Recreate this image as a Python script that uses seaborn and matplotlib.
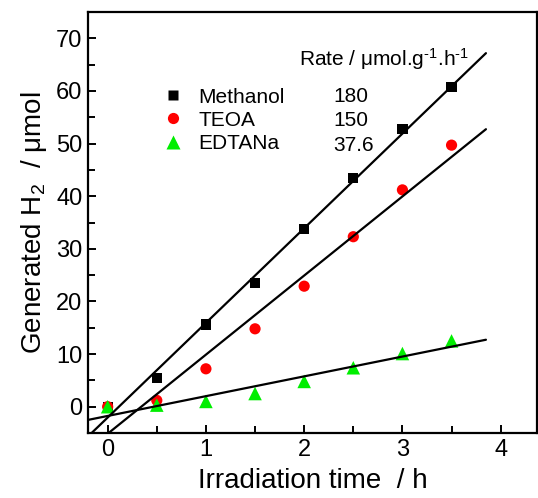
import numpy as np
import pandas as pd
import seaborn as sns
import matplotlib.pyplot as plt
from matplotlib.ticker import MultipleLocator

# data
time_h = [0, 0.5, 1.0, 1.5, 2.0, 2.5, 3.0, 3.5]
methanol = [0, 5.5, 15.6, 23.5, 33.7, 43.5, 52.8, 60.7]
teoa = [0, 1.2, 7.2, 14.8, 22.9, 32.3, 41.2, 49.7]
edtana = [0, 0.3, 1.0, 2.5, 4.8, 7.4, 10.1, 12.5]
names = ["Methanol", "TEOA", "EDTANa"]
rates = ["180", "150", "37.6"]
colors = ["black", "red", "#00ee00"]
markers = ["s", "o", "^"]
msizes = [55, 65, 95]

df = pd.DataFrame({"t": time_h * 3,
                   "h2": methanol + teoa + edtana,
                   "sample": [n for n in names for _ in time_h]})

sns.set_theme(style="ticks")
plt.rcParams["font.family"] = ["Liberation Sans", "DejaVu Sans"]
plt.rcParams.update({"text.color": "black", "axes.labelcolor": "black",
                     "xtick.color": "black", "ytick.color": "black",
                     "axes.edgecolor": "black", "axes.unicode_minus": False,
                     "mathtext.fontset": "custom", "mathtext.rm": "Liberation Sans",
                     "mathtext.it": "Liberation Sans:italic"})

fig = plt.figure(figsize=(5.38, 4.98), dpi=100)
ax = fig.add_axes([0.1636, 0.1305, 0.8346, 0.8454])

# linear fits
fit_x = np.array([-0.25, 3.85])
for n in names:
    d = df[df["sample"] == n]
    k, b = np.polyfit(d["t"], d["h2"], 1)
    sns.lineplot(x=fit_x, y=k * fit_x + b, color="black", lw=1.6, ax=ax, zorder=3)

sns.scatterplot(data=df, x="t", y="h2", hue="sample", style="sample", size="sample",
                palette=dict(zip(names, colors)), markers=dict(zip(names, markers)),
                sizes=dict(zip(names, msizes)), edgecolor="none", ax=ax, zorder=2)

ax.set_xlim(-0.2, 4.37)
ax.set_ylim(-5, 75)
ax.xaxis.set_major_locator(MultipleLocator(1))
ax.xaxis.set_minor_locator(MultipleLocator(0.5))
ax.yaxis.set_major_locator(MultipleLocator(10))
ax.yaxis.set_minor_locator(MultipleLocator(5))
ax.tick_params(which="both", direction="in", width=1.4, labelsize=17, pad=4)
ax.tick_params(which="major", length=6)
ax.tick_params(which="minor", length=5)
for s in ax.spines.values():
    s.set_linewidth(1.6)

ax.set_xlabel("Irradiation time  / h", fontsize=20, labelpad=5)
ax.set_ylabel("Generated H$_2$  / μmol", fontsize=20, labelpad=5)

leg = ax.legend(loc="upper left", bbox_to_anchor=(0.12, 0.865), frameon=False,
                fontsize=15, handlelength=1.2, handletextpad=0.6, labelspacing=0.2,
                title=None)
ax.text(0.47, 0.872, r"Rate / μmol.g$^{\text{-1}}$.h$^{\text{-1}}$", transform=ax.transAxes, fontsize=15)
for i, r in enumerate(rates):
    ax.text(0.546, 0.80 - i * 0.058, r, transform=ax.transAxes, fontsize=15, va="center")

plt.savefig("out.png", dpi=100)
